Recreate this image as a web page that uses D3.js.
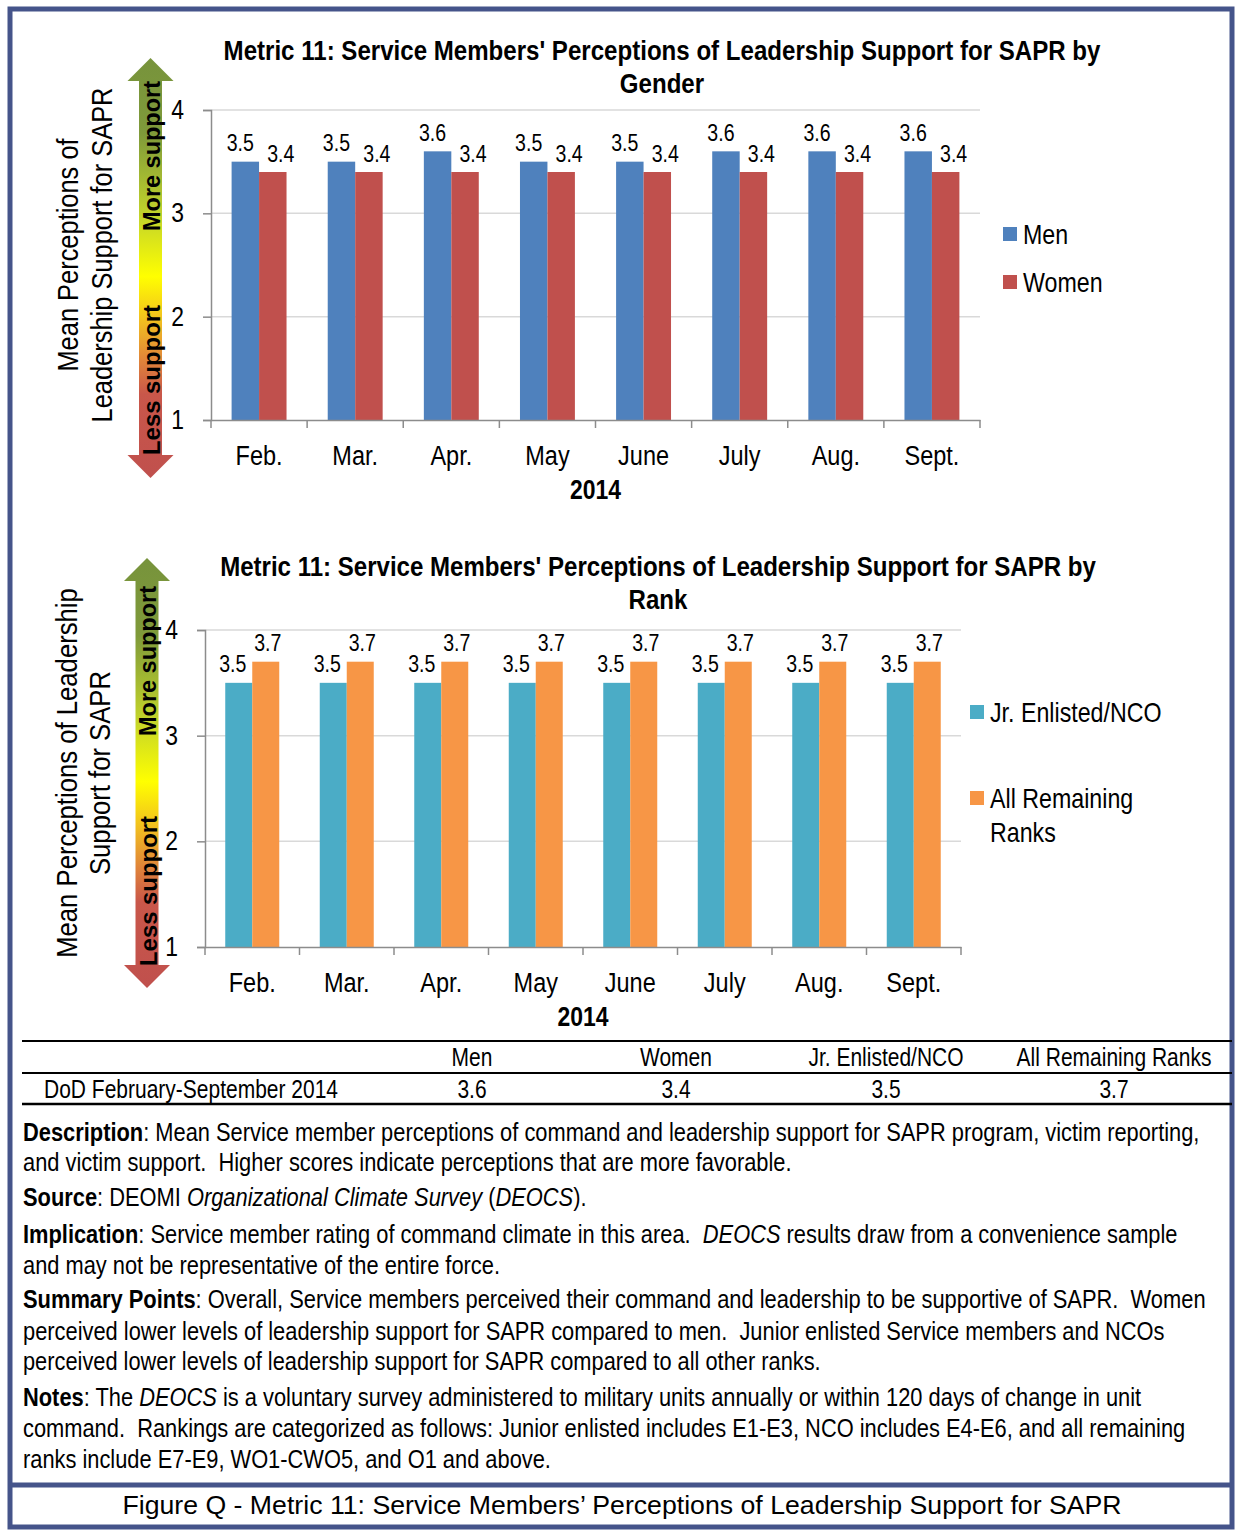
<!DOCTYPE html>
<html>
<head>
<meta charset="utf-8">
<script src="https://cdn.jsdelivr.net/npm/d3@7"></script>
<style>
  body { margin: 0; background: #fff; }
  svg text { fill: #000; }
</style>
</head>
<body>
<script>
// chart data
var months = ["Feb.", "Mar.", "Apr.", "May", "June", "July", "Aug.", "Sept."];
var menVals = [3.5, 3.5, 3.6, 3.5, 3.5, 3.6, 3.6, 3.6];
var womenVals = [3.4, 3.4, 3.4, 3.4, 3.4, 3.4, 3.4, 3.4];
var jrVals = [3.5, 3.5, 3.5, 3.5, 3.5, 3.5, 3.5, 3.5];
var remVals = [3.7, 3.7, 3.7, 3.7, 3.7, 3.7, 3.7, 3.7];
var yTicks = [1, 2, 3, 4];

// summary table
var tableCols = ["Men", "Women", "Jr. Enlisted/NCO", "All Remaining Ranks"];
var tableRow = "DoD February-September 2014";
var tableVals = [3.6, 3.4, 3.5, 3.7];

var W = 1235, H = 1531;
var FONT = "'Liberation Sans', Arial, sans-serif";

var svg = d3.select("body").append("svg")
    .attr("width", W)
    .attr("height", H)
    .style("font-family", FONT);

// gradient for the support arrows
var grad = svg.append("defs").append("linearGradient")
    .attr("id", "arrowGrad")
    .attr("x1", 0).attr("y1", 0).attr("x2", 0).attr("y2", 1);
[[0, "#77933c"], [0.18, "#7f9a3a"], [0.38, "#c4d52a"], [0.52, "#ffff00"],
 [0.62, "#f2c21e"], [0.72, "#e0843a"], [0.8, "#c9574a"], [1, "#c0504d"]]
  .forEach(function(s) {
    grad.append("stop").attr("offset", s[0]).attr("stop-color", s[1]);
  });

// outer frame
var navy = "#45548a";
svg.append("rect").attr("x", 10).attr("y", 9).attr("width", 1222).attr("height", 1518)
    .attr("fill", "none").attr("stroke", navy).attr("stroke-width", 5);
svg.append("line").attr("x1", 10).attr("x2", 1232).attr("y1", 1485).attr("y2", 1485)
    .attr("stroke", navy).attr("stroke-width", 5);

function drawChart(c) {
  var g = svg.append("g");

  var x = d3.scaleBand().domain(months).range([c.x0, c.x1]).padding(0);
  var xs = d3.scaleBand().domain([0, 1]).range([0, x.bandwidth()]).paddingInner(0).paddingOuter(0.75);
  var y = d3.scaleLinear().domain([1, 4]).range([c.yBot, c.yTop]);

  // gridlines
  g.selectAll(".grid").data(yTicks.slice(1)).enter().append("line")
      .attr("x1", c.x0).attr("x2", c.x1)
      .attr("y1", function(d) { return y(d); }).attr("y2", function(d) { return y(d); })
      .attr("stroke", "#d9d9d9").attr("stroke-width", 1.5);

  // y axis
  var yAxis = d3.axisLeft(y).tickValues(yTicks).tickSize(8).tickPadding(19).tickFormat(d3.format("d"));
  var yg = g.append("g").attr("transform", "translate(" + c.x0 + ",0)").call(yAxis);
  yg.selectAll("path, line").attr("stroke", "#8c8c8c").attr("stroke-width", 1.5);
  yg.selectAll("text").attr("font-size", 27).attr("font-family", FONT).attr("fill", "#000")
      .attr("data-k", 0.85);

  // bars
  c.series.forEach(function(s, si) {
    g.selectAll(".bar" + si).data(s.vals).enter().append("rect")
        .attr("x", function(d, i) { return x(months[i]) + xs(si); })
        .attr("y", function(d) { return y(d); })
        .attr("width", xs.bandwidth())
        .attr("height", function(d) { return y(1) - y(d); })
        .attr("fill", s.color);
    g.selectAll(".lab" + si).data(s.vals).enter().append("text")
        .attr("x", function(d, i) { return x(months[i]) + xs(si) + xs.bandwidth() / 2 + c.labOff[si]; })
        .attr("y", function(d) { return y(d) - 18; })
        .attr("text-anchor", "middle").attr("dominant-baseline", "central")
        .attr("font-size", 23).attr("data-k", 0.85)
        .text(function(d) { return d3.format(".1f")(d); });
  });

  // x axis
  var xAxis = d3.axisBottom(x).tickSize(0).tickPadding(25);
  var xg = g.append("g").attr("transform", "translate(0," + c.yBot + ")").call(xAxis);
  xg.select("path").attr("stroke", "#8c8c8c").attr("stroke-width", 1.5);
  xg.selectAll("text").attr("font-size", 28).attr("font-family", FONT).attr("fill", "#000")
      .attr("data-k", 0.84);
  g.selectAll(".xtick").data(months.concat(["end"])).enter().append("line")
      .attr("x1", function(d) { return d === "end" ? c.x1 : x(d); })
      .attr("x2", function(d) { return d === "end" ? c.x1 : x(d); })
      .attr("y1", c.yBot).attr("y2", c.yBot + 8)
      .attr("stroke", "#8c8c8c").attr("stroke-width", 1.5);

  g.append("text").attr("x", (c.x0 + c.x1) / 2).attr("y", c.yBot + 79)
      .attr("text-anchor", "middle").attr("font-size", 27).attr("font-weight", "bold")
      .attr("data-k", 0.85)
      .text("2014");

  // title, both lines squeezed like the first one
  var t0 = g.append("text").attr("x", c.titleX).attr("y", c.titleY)
      .attr("text-anchor", "middle").attr("font-size", 28).attr("font-weight", "bold")
      .text(c.title[0]);
  var tk = c.titleW / t0.node().getComputedTextLength();
  t0.attr("data-k", tk);
  g.append("text").attr("x", c.titleX).attr("y", c.titleY + 33)
      .attr("text-anchor", "middle").attr("font-size", 28).attr("font-weight", "bold")
      .attr("data-k", tk)
      .text(c.title[1]);

  // y label
  var yl = [];
  c.ylabel.forEach(function(t, i) {
    yl.push(g.append("text")
        .attr("transform", "translate(" + c.ylabelX[i] + "," + c.ylabelY + ") rotate(-90)")
        .attr("text-anchor", "middle").attr("dominant-baseline", "central")
        .attr("font-size", 29)
        .text(t));
  });
  var lk = c.ylabelW / yl[c.ylabelRef].node().getComputedTextLength();
  yl.forEach(function(s) { s.attr("data-k", lk); });

  // support arrow
  var ax = c.arrowX, sw = 11.5, hw = 23, hh = 23;
  var pts = [[ax, c.arrowTop], [ax + hw, c.arrowTop + hh], [ax + sw, c.arrowTop + hh],
             [ax + sw, c.arrowBot - hh], [ax + hw, c.arrowBot - hh], [ax, c.arrowBot],
             [ax - hw, c.arrowBot - hh], [ax - sw, c.arrowBot - hh], [ax - sw, c.arrowTop + hh],
             [ax - hw, c.arrowTop + hh]];
  g.append("path").attr("d", d3.line()(pts) + "Z").attr("fill", "url(#arrowGrad)");
  [["More support", c.moreY], ["Less support", c.lessY]].forEach(function(a) {
    var at = g.append("text")
        .attr("transform", "translate(" + (ax + 1) + "," + a[1] + ") rotate(-90)")
        .attr("text-anchor", "middle").attr("dominant-baseline", "central")
        .attr("font-size", 24).attr("font-weight", "bold")
        .text(a[0]);
    at.attr("data-k", 150 / at.node().getComputedTextLength());
  });

  // legend
  c.series.forEach(function(s, si) {
    var ly = c.legendY[si];
    g.append("rect").attr("x", c.legendX).attr("y", ly - 7).attr("width", 14).attr("height", 14)
        .attr("fill", s.color);
    s.label.forEach(function(t, li) {
      g.append("text").attr("x", c.legendX + 20).attr("y", ly + li * 34)
          .attr("dominant-baseline", "central").attr("font-size", 27).attr("data-k", 0.86)
          .text(t);
    });
  });
}

drawChart({
  x0: 211, x1: 980, yTop: 110, yBot: 420,
  series: [{vals: menVals, color: "#4f81bd", label: ["Men"]},
           {vals: womenVals, color: "#c0504d", label: ["Women"]}],
  labOff: [-5, 8],
  title: ["Metric 11: Service Members' Perceptions of Leadership Support for SAPR by", "Gender"],
  titleX: 662, titleY: 60, titleW: 877,
  ylabel: ["Mean Perceptions of", "Leadership Support for SAPR"], ylabelX: [68, 102], ylabelY: 255,
  ylabelRef: 1, ylabelW: 335,
  arrowX: 150.5, arrowTop: 58, arrowBot: 478, moreY: 156, lessY: 380,
  legendX: 1003, legendY: [234, 282]
});

drawChart({
  x0: 205, x1: 961, yTop: 630, yBot: 947,
  series: [{vals: jrVals, color: "#4bacc6", label: ["Jr. Enlisted/NCO"]},
           {vals: remVals, color: "#f79646", label: ["All Remaining", "Ranks"]}],
  labOff: [-6, 2],
  title: ["Metric 11: Service Members' Perceptions of Leadership Support for SAPR by", "Rank"],
  titleX: 658, titleY: 576, titleW: 876,
  ylabel: ["Mean Perceptions of Leadership", "Support for SAPR"], ylabelX: [67, 100], ylabelY: 773,
  ylabelRef: 0, ylabelW: 370,
  arrowX: 147, arrowTop: 558, arrowBot: 988, moreY: 661, lessY: 891,
  legendX: 970, legendY: [712, 798]
});

// summary table
var colX = [472, 676, 886, 1114];
var tg = svg.append("g");
tg.append("line").attr("x1", 22).attr("x2", 1232).attr("y1", 1041).attr("y2", 1041).attr("stroke", "#000").attr("stroke-width", 2);
tg.append("line").attr("x1", 22).attr("x2", 1232).attr("y1", 1073).attr("y2", 1073).attr("stroke", "#000").attr("stroke-width", 2);
tg.append("line").attr("x1", 22).attr("x2", 1232).attr("y1", 1104).attr("y2", 1104).attr("stroke", "#000").attr("stroke-width", 2.5);
tg.selectAll(".th").data(tableCols).enter().append("text")
    .attr("x", function(d, i) { return colX[i]; }).attr("y", 1057)
    .attr("text-anchor", "middle").attr("dominant-baseline", "central").attr("font-size", 25)
    .attr("data-k", 0.84)
    .text(function(d) { return d; });
tg.append("text").attr("x", 44).attr("y", 1089).attr("dominant-baseline", "central")
    .attr("font-size", 25).attr("data-k", 0.84).text(tableRow);
tg.selectAll(".td").data(tableVals).enter().append("text")
    .attr("x", function(d, i) { return colX[i]; }).attr("y", 1089)
    .attr("text-anchor", "middle").attr("dominant-baseline", "central").attr("font-size", 25)
    .attr("data-k", 0.84)
    .text(function(d) { return d3.format(".1f")(d); });

// notes text; each line: y, width in the reference, then [text, style] parts
var notes = [
  [1132, 1177, [["Description", "b"], [": Mean Service member perceptions of command and leadership support for SAPR program, victim reporting,", ""]]],
  [1162, 769, [["and victim support.  Higher scores indicate perceptions that are more favorable.", ""]]],
  [1197, 564, [["Source", "b"], [": DEOMI ", ""], ["Organizational Climate Survey", "i"], [" (", ""], ["DEOCS", "i"], [").", ""]]],
  [1234, 1155, [["Implication", "b"], [": Service member rating of command climate in this area.  ", ""], ["DEOCS", "i"], [" results draw from a convenience sample", ""]]],
  [1265, 477, [["and may not be representative of the entire force.", ""]]],
  [1300, 1183, [["Summary Points", "b"], [": Overall, Service members perceived their command and leadership to be supportive of SAPR.  Women", ""]]],
  [1331, 1142, [["perceived lower levels of leadership support for SAPR compared to men.  Junior enlisted Service members and NCOs", ""]]],
  [1361, 798, [["perceived lower levels of leadership support for SAPR compared to all other ranks.", ""]]],
  [1397, 1119, [["Notes", "b"], [": The ", ""], ["DEOCS", "i"], [" is a voluntary survey administered to military units annually or within 120 days of change in unit", ""]]],
  [1428, 1163, [["command.  Rankings are categorized as follows: Junior enlisted includes E1-E3, NCO includes E4-E6, and all remaining", ""]]],
  [1459, 528, [["ranks include E7-E9, WO1-CWO5, and O1 and above.", ""]]]
];
notes.forEach(function(n) {
  var t = svg.append("text").attr("x", 23).attr("y", n[0])
      .attr("dominant-baseline", "central").attr("font-size", 25)
      .style("white-space", "pre");
  n[2].forEach(function(p) {
    t.append("tspan")
        .attr("font-weight", p[1] === "b" ? "bold" : null)
        .attr("font-style", p[1] === "i" ? "italic" : null)
        .text(p[0]);
  });
  t.attr("data-k", n[1] / t.node().getComputedTextLength());
});

// caption
var cap = svg.append("text").attr("x", 622).attr("y", 1505)
    .attr("text-anchor", "middle").attr("dominant-baseline", "central")
    .attr("font-size", 26)
    .text("Figure Q - Metric 11: Service Members\u2019 Perceptions of Leadership Support for SAPR");
cap.attr("data-k", 1000 / cap.node().getComputedTextLength());

// narrow the texts horizontally (the original uses a condensed face)
svg.selectAll("text").each(function() {
  var k = +this.getAttribute("data-k") || 1;
  if (k === 1) return;
  var tr = this.getAttribute("transform");
  if (tr) {
    this.setAttribute("transform", tr + " scale(" + k + ",1)");
  } else {
    var x0 = +this.getAttribute("x") || 0;
    this.setAttribute("transform", "translate(" + x0 + ",0) scale(" + k + ",1) translate(" + (-x0) + ",0)");
  }
});
</script>
</body>
</html>
